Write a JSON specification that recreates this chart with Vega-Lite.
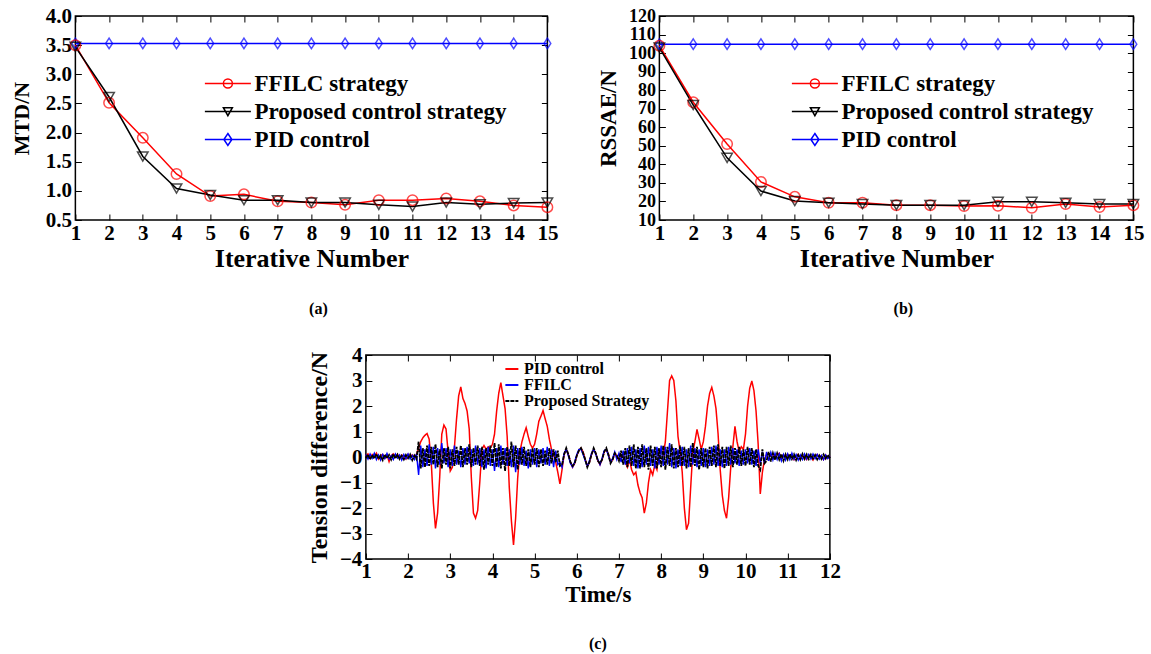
{
  "$schema": "https://vega.github.io/schema/vega-lite/v6.json",
  "background": "white",
  "padding": {"left": 9, "top": 4, "right": 5, "bottom": 5},
  "config": {
    "font": "Liberation Serif",
    "view": {"stroke": "#000000", "strokeWidth": 1.5},
    "axis": {"labelFont": "Liberation Serif", "labelFontWeight": "bold", "labelColor": "#000000", "labelFontSize": 21, "labelOverlap": false, "labelBound": false, "labelFlush": false, "titleFont": "Liberation Serif", "titleFontWeight": "bold", "titleColor": "#000000", "domain": false, "grid": false, "tickColor": "#000000", "tickSize": -6, "tickWidth": 1, "labelPadding": 10},
    "legend": {"labelFont": "Liberation Serif", "labelFontWeight": "bold", "labelColor": "#000000", "labelLimit": 0},
    "title": {"font": "Liberation Serif", "fontWeight": "bold", "color": "#000000"}
  },
  "center": true,
  "spacing": 25,
  "resolve": {"scale": {"color": "independent", "shape": "independent", "strokeDash": "independent"}, "legend": {"color": "independent", "shape": "independent", "strokeDash": "independent"}},
  "vconcat": [
    {
      "spacing": 37,
      "resolve": {"scale": {"color": "independent", "shape": "independent", "strokeDash": "independent"}, "legend": {"color": "independent", "shape": "independent", "strokeDash": "independent"}},
      "hconcat": [
        {
          "width": 472, "height": 204,
          "data": {"values": [
            {"n": 1, "F": 3.5, "P": 3.47, "D": 3.53},
            {"n": 2, "F": 2.51, "P": 2.61, "D": 3.53},
            {"n": 3, "F": 1.91, "P": 1.59, "D": 3.53},
            {"n": 4, "F": 1.29, "P": 1.04, "D": 3.53},
            {"n": 5, "F": 0.91, "P": 0.93, "D": 3.53},
            {"n": 6, "F": 0.94, "P": 0.84, "D": 3.53},
            {"n": 7, "F": 0.82, "P": 0.84, "D": 3.53},
            {"n": 8, "F": 0.8, "P": 0.8, "D": 3.53},
            {"n": 9, "F": 0.76, "P": 0.8, "D": 3.53},
            {"n": 10, "F": 0.84, "P": 0.76, "D": 3.53},
            {"n": 11, "F": 0.84, "P": 0.73, "D": 3.53},
            {"n": 12, "F": 0.87, "P": 0.8, "D": 3.53},
            {"n": 13, "F": 0.82, "P": 0.77, "D": 3.53},
            {"n": 14, "F": 0.75, "P": 0.79, "D": 3.53},
            {"n": 15, "F": 0.72, "P": 0.8, "D": 3.53}
          ]},
          "transform": [{"fold": ["D", "F", "P"], "as": ["k", "v"]}],
          "title": {"text": "(a)", "orient": "bottom", "frame": "group", "anchor": "middle", "dx": 7, "offset": 30, "fontSize": 16},
          "resolve": {"axis": {"x": "independent", "y": "independent"}},
          "layer": [
            {
              "mark": {"type": "line", "strokeWidth": 1.5},
              "encoding": {
                "x": {"field": "n", "type": "quantitative", "scale": {"domain": [1, 15], "nice": false}, "axis": {"values": [1,2,3,4,5,6,7,8,9,10,11,12,13,14,15], "title": "Iterative Number", "titleFontSize": 26, "labelPadding": 8, "titlePadding": 2}},
                "y": {"field": "v", "type": "quantitative", "scale": {"domain": [0.5, 4], "nice": false, "zero": false}, "axis": {"values": [0.5,1,1.5,2,2.5,3,3.5,4], "format": ".1f", "title": "MTD/N", "titleFontSize": 22, "titlePadding": 12}},
                "color": {"field": "k", "type": "nominal", "scale": {"domain": ["F", "P", "D"], "range": ["#ff0000", "#000000", "#0000ff"]},
                  "legend": {"orient": "none", "legendX": 141, "legendY": 56, "title": null, "padding": 0, "symbolSize": 400, "symbolStrokeWidth": 1.5, "labelOffset": 15, "labelFontSize": 23, "rowPadding": 4,
                    "labelExpr": "datum.value == 'F' ? 'FFILC strategy' : datum.value == 'P' ? 'Proposed control strategy' : 'PID control'",
                    "encode": {"symbols": {"update": {"fill": {"value": "transparent"}, "shape": {"signal": "datum.value == 'F' ? 'M-2.3,0H2.3M0.45,0A0.45,0.45 0 1,1 -0.45,0A0.45,0.45 0 1,1 0.45,0' : datum.value == 'P' ? 'M-2.3,0H2.3M-0.45,-0.38L0.45,-0.38L0,0.42Z' : 'M-2.3,0H2.3M0,-0.6L0.4,0L0,0.6L-0.4,0Z'"}}}}}}
              }
            },
            {
              "mark": {"type": "point", "filled": false, "size": 110, "strokeWidth": 1.5},
              "encoding": {
                "x": {"field": "n", "type": "quantitative", "scale": {"domain": [1, 15], "nice": false}, "axis": {"orient": "top", "values": [1,2,3,4,5,6,7,8,9,10,11,12,13,14,15], "labels": false, "title": null}},
                "y": {"field": "v", "type": "quantitative", "scale": {"domain": [0.5, 4], "nice": false, "zero": false}, "axis": {"orient": "right", "values": [0.5,1,1.5,2,2.5,3,3.5,4], "labels": false, "title": null}},
                "color": {"field": "k", "type": "nominal", "scale": {"domain": ["F", "P", "D"], "range": ["#ff0000", "#000000", "#0000ff"]}},
                "shape": {"field": "k", "type": "nominal", "scale": {"domain": ["D", "F", "P"], "range": ["M0,-1L0.65,0L0,1L-0.65,0Z", "circle", "triangle-down"]}, "legend": null}
              }
            }
          ]
        },
        {
          "width": 474, "height": 204,
          "data": {"values": [
            {"n": 1, "F": 104, "P": 103, "D": 104.8},
            {"n": 2, "F": 73.5, "P": 72, "D": 104.8},
            {"n": 3, "F": 51, "P": 43.5, "D": 104.8},
            {"n": 4, "F": 30.5, "P": 25.6, "D": 104.8},
            {"n": 5, "F": 22.5, "P": 20.2, "D": 104.8},
            {"n": 6, "F": 19.3, "P": 19.3, "D": 104.8},
            {"n": 7, "F": 19.3, "P": 18.6, "D": 104.8},
            {"n": 8, "F": 18, "P": 18, "D": 104.8},
            {"n": 9, "F": 18, "P": 18, "D": 104.8},
            {"n": 10, "F": 17.5, "P": 18, "D": 104.8},
            {"n": 11, "F": 17.7, "P": 19.8, "D": 104.8},
            {"n": 12, "F": 16.6, "P": 19.8, "D": 104.8},
            {"n": 13, "F": 18.6, "P": 19.3, "D": 104.8},
            {"n": 14, "F": 17, "P": 18.6, "D": 104.8},
            {"n": 15, "F": 18, "P": 18.6, "D": 104.8}
          ]},
          "transform": [{"fold": ["D", "F", "P"], "as": ["k", "v"]}],
          "title": {"text": "(b)", "orient": "bottom", "frame": "group", "anchor": "middle", "dx": 7, "offset": 30, "fontSize": 16},
          "resolve": {"axis": {"x": "independent", "y": "independent"}},
          "layer": [
            {
              "mark": {"type": "line", "strokeWidth": 1.5},
              "encoding": {
                "x": {"field": "n", "type": "quantitative", "scale": {"domain": [1, 15], "nice": false}, "axis": {"values": [1,2,3,4,5,6,7,8,9,10,11,12,13,14,15], "title": "Iterative Number", "titleFontSize": 26, "labelPadding": 8, "titlePadding": 2}},
                "y": {"field": "v", "type": "quantitative", "scale": {"domain": [10, 120], "nice": false, "zero": false}, "axis": {"values": [10,20,30,40,50,60,70,80,90,100,110,120], "format": "d", "title": "RSSAE/N", "labelFontSize": 18, "titleFontSize": 23, "titlePadding": 8}},
                "color": {"field": "k", "type": "nominal", "scale": {"domain": ["F", "P", "D"], "range": ["#ff0000", "#000000", "#0000ff"]},
                  "legend": {"orient": "none", "legendX": 144, "legendY": 56, "title": null, "padding": 0, "symbolSize": 400, "symbolStrokeWidth": 1.5, "labelOffset": 15, "labelFontSize": 23, "rowPadding": 4,
                    "labelExpr": "datum.value == 'F' ? 'FFILC strategy' : datum.value == 'P' ? 'Proposed control strategy' : 'PID control'",
                    "encode": {"symbols": {"update": {"fill": {"value": "transparent"}, "shape": {"signal": "datum.value == 'F' ? 'M-2.3,0H2.3M0.45,0A0.45,0.45 0 1,1 -0.45,0A0.45,0.45 0 1,1 0.45,0' : datum.value == 'P' ? 'M-2.3,0H2.3M-0.45,-0.38L0.45,-0.38L0,0.42Z' : 'M-2.3,0H2.3M0,-0.6L0.4,0L0,0.6L-0.4,0Z'"}}}}}}
              }
            },
            {
              "mark": {"type": "point", "filled": false, "size": 110, "strokeWidth": 1.5},
              "encoding": {
                "x": {"field": "n", "type": "quantitative", "scale": {"domain": [1, 15], "nice": false}, "axis": {"orient": "top", "values": [1,2,3,4,5,6,7,8,9,10,11,12,13,14,15], "labels": false, "title": null}},
                "y": {"field": "v", "type": "quantitative", "scale": {"domain": [10, 120], "nice": false, "zero": false}, "axis": {"orient": "right", "values": [10,20,30,40,50,60,70,80,90,100,110,120], "labels": false, "title": null}},
                "color": {"field": "k", "type": "nominal", "scale": {"domain": ["F", "P", "D"], "range": ["#ff0000", "#000000", "#0000ff"]}},
                "shape": {"field": "k", "type": "nominal", "scale": {"domain": ["D", "F", "P"], "range": ["M0,-1L0.65,0L0,1L-0.65,0Z", "circle", "triangle-down"]}, "legend": null}
              }
            }
          ]
        }
      ]
    },
    {
      "width": 464, "height": 204,
      "data": {"values": [
        {"t":1,"p":0.05,"f":0.1,"s":-0.05},
        {"t":1.05,"p":0.12,"f":-0.08,"s":0.1},
        {"t":1.1,"p":-0.05,"f":0.12,"s":-0.1},
        {"t":1.15,"p":0.1,"f":-0.05,"s":0.08},
        {"t":1.2,"p":0.02,"f":0.15,"s":-0.06},
        {"t":1.25,"p":0.15,"f":-0.1,"s":0.12},
        {"t":1.3,"p":-0.08,"f":0.08,"s":-0.08},
        {"t":1.35,"p":0.05,"f":-0.12,"s":0.06},
        {"t":1.4,"p":0.1,"f":0.1,"s":-0.12},
        {"t":1.45,"p":-0.05,"f":-0.06,"s":0.1},
        {"t":1.5,"p":0.08,"f":0.14,"s":-0.05},
        {"t":1.55,"p":-0.18,"f":-0.08,"s":0.08},
        {"t":1.6,"p":0.05,"f":0.05,"s":-0.1},
        {"t":1.65,"p":0.12,"f":-0.1,"s":0.12},
        {"t":1.7,"p":0,"f":0.12,"s":-0.06},
        {"t":1.75,"p":0.1,"f":-0.04,"s":0.1},
        {"t":1.8,"p":-0.05,"f":0.08,"s":-0.08},
        {"t":1.85,"p":0.08,"f":-0.12,"s":0.05},
        {"t":1.9,"p":0.02,"f":0.1,"s":-0.1},
        {"t":1.95,"p":-0.08,"f":-0.06,"s":0.08},
        {"t":2,"p":0.1,"f":0.12,"s":-0.05},
        {"t":2.05,"p":0,"f":-0.08,"s":0.1},
        {"t":2.1,"p":0.08,"f":0.06,"s":-0.12},
        {"t":2.15,"p":-0.05,"f":-0.1,"s":0.06},
        {"t":2.2,"p":0.1,"f":0.12,"s":-0.08},
        {"t":2.25,"p":0.35,"f":-0.7,"s":0.6},
        {"t":2.3,"p":0.6,"f":0.45,"s":-0.45},
        {"t":2.35,"p":0.75,"f":-0.4,"s":0.35},
        {"t":2.4,"p":0.85,"f":0.3,"s":-0.4},
        {"t":2.45,"p":0.92,"f":-0.35,"s":0.45},
        {"t":2.5,"p":0.7,"f":0.5,"s":-0.35},
        {"t":2.55,"p":-0.2,"f":-0.3,"s":0.4},
        {"t":2.6,"p":-1.8,"f":0.4,"s":-0.3},
        {"t":2.65,"p":-2.8,"f":-0.45,"s":0.5},
        {"t":2.7,"p":-2.2,"f":0.35,"s":-0.4},
        {"t":2.75,"p":-0.8,"f":-0.3,"s":0.3},
        {"t":2.8,"p":0.9,"f":0.55,"s":-0.45},
        {"t":2.85,"p":1.25,"f":-0.25,"s":0.35},
        {"t":2.9,"p":1.1,"f":0.35,"s":-0.3},
        {"t":2.95,"p":0.2,"f":-0.4,"s":0.4},
        {"t":3,"p":-0.55,"f":0.3,"s":-0.45},
        {"t":3.05,"p":-0.4,"f":-0.35,"s":0.3},
        {"t":3.1,"p":0.4,"f":0.45,"s":-0.35},
        {"t":3.15,"p":1.5,"f":-0.3,"s":0.4},
        {"t":3.2,"p":2.4,"f":0.25,"s":-0.3},
        {"t":3.25,"p":2.75,"f":-0.4,"s":0.45},
        {"t":3.3,"p":2.3,"f":0.35,"s":-0.4},
        {"t":3.35,"p":2.1,"f":-0.3,"s":0.35},
        {"t":3.4,"p":1.8,"f":0.4,"s":-0.3},
        {"t":3.45,"p":1.1,"f":-0.25,"s":0.5},
        {"t":3.5,"p":-0.8,"f":0.3,"s":-0.4},
        {"t":3.55,"p":-2.2,"f":-0.35,"s":0.35},
        {"t":3.6,"p":-2.4,"f":0.45,"s":-0.3},
        {"t":3.65,"p":-2.1,"f":-0.3,"s":0.45},
        {"t":3.7,"p":-1,"f":0.35,"s":-0.35},
        {"t":3.75,"p":0.3,"f":-0.4,"s":0.4},
        {"t":3.8,"p":0.45,"f":0.3,"s":-0.5},
        {"t":3.85,"p":0.3,"f":-0.45,"s":0.35},
        {"t":3.9,"p":0.4,"f":0.4,"s":-0.3},
        {"t":3.95,"p":0.35,"f":-0.35,"s":0.45},
        {"t":4,"p":0.5,"f":0.3,"s":-0.35},
        {"t":4.05,"p":0.9,"f":-0.55,"s":0.55},
        {"t":4.1,"p":1.8,"f":0.35,"s":-0.4},
        {"t":4.15,"p":2.5,"f":-0.4,"s":0.5},
        {"t":4.2,"p":2.92,"f":0.45,"s":-0.45},
        {"t":4.25,"p":2.4,"f":-0.3,"s":0.35},
        {"t":4.3,"p":1.9,"f":0.35,"s":-0.55},
        {"t":4.35,"p":0.8,"f":-0.35,"s":0.4},
        {"t":4.4,"p":-1.2,"f":0.3,"s":-0.35},
        {"t":4.45,"p":-2.5,"f":-0.4,"s":0.6},
        {"t":4.5,"p":-3.45,"f":0.45,"s":-0.4},
        {"t":4.55,"p":-2.4,"f":-0.6,"s":0.45},
        {"t":4.6,"p":-0.8,"f":0.35,"s":-0.5},
        {"t":4.65,"p":0.2,"f":-0.3,"s":0.35},
        {"t":4.7,"p":0.6,"f":0.4,"s":-0.3},
        {"t":4.75,"p":0.9,"f":-0.35,"s":0.4},
        {"t":4.8,"p":1.15,"f":0.25,"s":-0.35},
        {"t":4.85,"p":0.8,"f":-0.45,"s":0.3},
        {"t":4.9,"p":0.5,"f":0.3,"s":-0.4},
        {"t":4.95,"p":0.35,"f":-0.3,"s":0.35},
        {"t":5,"p":0.5,"f":0.35,"s":-0.3},
        {"t":5.05,"p":0.9,"f":-0.4,"s":0.35},
        {"t":5.1,"p":1.4,"f":0.3,"s":-0.4},
        {"t":5.15,"p":1.6,"f":-0.25,"s":0.3},
        {"t":5.2,"p":1.82,"f":0.35,"s":-0.35},
        {"t":5.25,"p":1.5,"f":-0.3,"s":0.25},
        {"t":5.3,"p":1.2,"f":0.4,"s":-0.3},
        {"t":5.35,"p":0.7,"f":-0.35,"s":0.35},
        {"t":5.4,"p":0.3,"f":0.3,"s":-0.25},
        {"t":5.45,"p":0.1,"f":-0.4,"s":0.3},
        {"t":5.5,"p":-0.2,"f":0.25,"s":-0.2},
        {"t":5.55,"p":-0.6,"f":-0.3,"s":0.25},
        {"t":5.6,"p":-1.05,"f":-0.2,"s":-0.35},
        {"t":5.65,"p":-0.5,"f":-0.4,"s":-0.3},
        {"t":5.7,"p":0.1,"f":0.15,"s":0.1},
        {"t":5.75,"p":0.3,"f":0.3,"s":0.35},
        {"t":5.8,"p":0.1,"f":0.05,"s":0.1},
        {"t":5.85,"p":-0.2,"f":-0.25,"s":-0.2},
        {"t":5.9,"p":-0.4,"f":-0.4,"s":-0.35},
        {"t":5.95,"p":-0.25,"f":-0.2,"s":-0.25},
        {"t":6,"p":0.05,"f":0.1,"s":0.05},
        {"t":6.05,"p":0.25,"f":0.3,"s":0.25},
        {"t":6.1,"p":0.35,"f":0.3,"s":0.35},
        {"t":6.15,"p":0.2,"f":0.1,"s":0.15},
        {"t":6.2,"p":-0.1,"f":-0.15,"s":-0.1},
        {"t":6.25,"p":-0.35,"f":-0.35,"s":-0.4},
        {"t":6.3,"p":-0.2,"f":-0.15,"s":-0.2},
        {"t":6.35,"p":0.1,"f":0.15,"s":0.1},
        {"t":6.4,"p":0.3,"f":0.3,"s":0.35},
        {"t":6.45,"p":0.15,"f":0.1,"s":0.15},
        {"t":6.5,"p":-0.15,"f":-0.1,"s":-0.15},
        {"t":6.55,"p":-0.3,"f":-0.3,"s":-0.25},
        {"t":6.6,"p":-0.1,"f":-0.05,"s":-0.1},
        {"t":6.65,"p":0.2,"f":0.25,"s":0.2},
        {"t":6.7,"p":0.3,"f":0.3,"s":0.35},
        {"t":6.75,"p":0.1,"f":0.05,"s":0.1},
        {"t":6.8,"p":-0.2,"f":-0.2,"s":-0.25},
        {"t":6.85,"p":-0.1,"f":-0.05,"s":-0.1},
        {"t":6.9,"p":0.15,"f":0.2,"s":0.15},
        {"t":6.95,"p":0.05,"f":-0.1,"s":0.05},
        {"t":7,"p":-0.1,"f":0.15,"s":-0.15},
        {"t":7.05,"p":0.1,"f":-0.2,"s":0.25},
        {"t":7.1,"p":0.05,"f":0.25,"s":-0.3},
        {"t":7.15,"p":-0.2,"f":-0.3,"s":0.35},
        {"t":7.2,"p":-0.4,"f":0.35,"s":-0.4},
        {"t":7.25,"p":-0.1,"f":-0.25,"s":0.45},
        {"t":7.3,"p":-0.5,"f":0.4,"s":-0.35},
        {"t":7.35,"p":-0.7,"f":-0.35,"s":0.5},
        {"t":7.4,"p":-0.6,"f":0.3,"s":-0.45},
        {"t":7.45,"p":-1.1,"f":-0.45,"s":0.4},
        {"t":7.5,"p":-1.4,"f":0.35,"s":-0.45},
        {"t":7.55,"p":-1.6,"f":-0.4,"s":0.5},
        {"t":7.6,"p":-2.2,"f":0.45,"s":-0.4},
        {"t":7.65,"p":-1.8,"f":-0.3,"s":0.35},
        {"t":7.7,"p":-1,"f":0.4,"s":-0.5},
        {"t":7.75,"p":-0.5,"f":-0.35,"s":0.45},
        {"t":7.8,"p":-0.7,"f":0.3,"s":-0.35},
        {"t":7.85,"p":-0.3,"f":-0.45,"s":0.4},
        {"t":7.9,"p":-0.5,"f":0.4,"s":-0.45},
        {"t":7.95,"p":0.2,"f":-0.3,"s":0.35},
        {"t":8,"p":0.3,"f":0.45,"s":-0.4},
        {"t":8.05,"p":0.1,"f":-0.35,"s":0.45},
        {"t":8.1,"p":0.6,"f":0.4,"s":-0.5},
        {"t":8.15,"p":1.8,"f":-0.3,"s":0.4},
        {"t":8.2,"p":3,"f":0.55,"s":-0.35},
        {"t":8.25,"p":3.18,"f":-0.4,"s":0.5},
        {"t":8.3,"p":3,"f":0.35,"s":-0.45},
        {"t":8.35,"p":2.2,"f":-0.45,"s":0.35},
        {"t":8.4,"p":0.8,"f":0.3,"s":-0.4},
        {"t":8.45,"p":0.2,"f":-0.35,"s":0.45},
        {"t":8.5,"p":-0.6,"f":0.4,"s":-0.35},
        {"t":8.55,"p":-2,"f":-0.35,"s":0.4},
        {"t":8.6,"p":-2.85,"f":0.3,"s":-0.45},
        {"t":8.65,"p":-2.6,"f":-0.4,"s":0.35},
        {"t":8.7,"p":-1.2,"f":0.45,"s":-0.4},
        {"t":8.75,"p":0.2,"f":-0.3,"s":0.55},
        {"t":8.8,"p":0.6,"f":0.35,"s":-0.35},
        {"t":8.85,"p":1.08,"f":-0.4,"s":0.4},
        {"t":8.9,"p":0.7,"f":0.3,"s":-0.5},
        {"t":8.95,"p":0.3,"f":-0.35,"s":0.35},
        {"t":9,"p":0.6,"f":0.35,"s":-0.4},
        {"t":9.05,"p":1.2,"f":-0.4,"s":0.35},
        {"t":9.1,"p":2,"f":0.3,"s":-0.45},
        {"t":9.15,"p":2.5,"f":-0.35,"s":0.4},
        {"t":9.2,"p":2.73,"f":0.4,"s":-0.35},
        {"t":9.25,"p":2.4,"f":-0.3,"s":0.45},
        {"t":9.3,"p":1.9,"f":0.45,"s":-0.4},
        {"t":9.35,"p":0.9,"f":-0.35,"s":0.5},
        {"t":9.4,"p":-0.5,"f":0.3,"s":-0.35},
        {"t":9.45,"p":-1.5,"f":-0.4,"s":0.4},
        {"t":9.5,"p":-2.1,"f":0.3,"s":-0.45},
        {"t":9.55,"p":-2.4,"f":-0.35,"s":0.4},
        {"t":9.6,"p":-1.6,"f":0.4,"s":-0.35},
        {"t":9.65,"p":-0.4,"f":-0.3,"s":0.45},
        {"t":9.7,"p":0.4,"f":0.35,"s":-0.4},
        {"t":9.75,"p":1.2,"f":-0.25,"s":0.35},
        {"t":9.8,"p":0.6,"f":0.3,"s":-0.3},
        {"t":9.85,"p":0.2,"f":-0.35,"s":0.4},
        {"t":9.9,"p":0.4,"f":0.25,"s":-0.35},
        {"t":9.95,"p":0.3,"f":-0.3,"s":0.3},
        {"t":10,"p":0.9,"f":0.3,"s":-0.35},
        {"t":10.05,"p":2,"f":-0.25,"s":0.4},
        {"t":10.1,"p":2.7,"f":0.35,"s":-0.3},
        {"t":10.15,"p":2.98,"f":-0.3,"s":0.35},
        {"t":10.2,"p":2.6,"f":0.25,"s":-0.4},
        {"t":10.25,"p":1.8,"f":-0.35,"s":0.3},
        {"t":10.3,"p":0.5,"f":0.3,"s":-0.35},
        {"t":10.35,"p":-1.45,"f":-0.25,"s":-0.5},
        {"t":10.4,"p":-0.6,"f":0.2,"s":0.3},
        {"t":10.45,"p":-0.1,"f":-0.25,"s":-0.25},
        {"t":10.5,"p":0.1,"f":0.2,"s":-0.15},
        {"t":10.55,"p":0.15,"f":-0.15,"s":0.2},
        {"t":10.6,"p":0.05,"f":0.18,"s":-0.18},
        {"t":10.65,"p":0.1,"f":-0.12,"s":0.15},
        {"t":10.7,"p":-0.05,"f":0.15,"s":-0.12},
        {"t":10.75,"p":0.1,"f":-0.1,"s":0.15},
        {"t":10.8,"p":0.15,"f":0.12,"s":-0.1},
        {"t":10.85,"p":-0.05,"f":-0.15,"s":0.12},
        {"t":10.9,"p":0.08,"f":0.1,"s":-0.15},
        {"t":10.95,"p":0,"f":-0.12,"s":0.1},
        {"t":11,"p":0.1,"f":0.12,"s":-0.1},
        {"t":11.05,"p":-0.05,"f":-0.1,"s":0.12},
        {"t":11.1,"p":0.08,"f":0.15,"s":-0.08},
        {"t":11.15,"p":-0.1,"f":-0.08,"s":0.1},
        {"t":11.2,"p":0.05,"f":0.1,"s":-0.12},
        {"t":11.25,"p":0.1,"f":-0.12,"s":0.08},
        {"t":11.3,"p":-0.08,"f":0.08,"s":-0.1},
        {"t":11.35,"p":0.05,"f":-0.1,"s":0.12},
        {"t":11.4,"p":0,"f":0.12,"s":-0.08},
        {"t":11.45,"p":-0.1,"f":-0.08,"s":0.1},
        {"t":11.5,"p":0.08,"f":0.1,"s":-0.08},
        {"t":11.55,"p":0,"f":-0.08,"s":0.1},
        {"t":11.6,"p":-0.12,"f":0.12,"s":-0.06},
        {"t":11.65,"p":0.05,"f":-0.06,"s":0.08},
        {"t":11.7,"p":0.1,"f":0.1,"s":-0.1},
        {"t":11.75,"p":-0.05,"f":-0.08,"s":0.06},
        {"t":11.8,"p":0.05,"f":0.06,"s":-0.08},
        {"t":11.85,"p":-0.1,"f":-0.1,"s":0.1},
        {"t":11.9,"p":0.08,"f":0.08,"s":-0.06},
        {"t":11.95,"p":-0.05,"f":-0.06,"s":0.08},
        {"t":12,"p":0.05,"f":0.05,"s":-0.05}
      ]},
      "transform": [{"fold": ["p", "f", "s"], "as": ["k", "v"]}],
      "title": {"text": "(c)", "orient": "bottom", "frame": "group", "anchor": "middle", "offset": 30, "fontSize": 16},
      "resolve": {"axis": {"x": "independent", "y": "independent"}},
      "layer": [
        {
          "transform": [{"filter": "datum.k == 'p'"}],
          "mark": {"type": "line", "strokeWidth": 1.5},
          "encoding": {
            "x": {"field": "t", "type": "quantitative", "scale": {"domain": [1, 12], "nice": false}, "axis": {"values": [1,2,3,4,5,6,7,8,9,10,11,12], "title": "Time/s", "titleFontSize": 23, "labelPadding": 7, "titlePadding": 2}},
            "y": {"field": "v", "type": "quantitative", "scale": {"domain": [-4, 4], "nice": false}, "axis": {"values": [-4,-3,-2,-1,0,1,2,3,4], "title": "Tension difference/N", "titleFontSize": 24, "titlePadding": 8}},
            "color": {"field": "k", "type": "nominal", "scale": {"domain": ["p", "f", "s"], "range": ["#ff0000", "#0000ff", "#000000"]},
              "legend": {"orient": "none", "legendX": 138, "legendY": 6, "title": null, "padding": 0, "symbolType": "stroke", "symbolSize": 169, "symbolStrokeWidth": 2, "labelOffset": 4, "labelFontSize": 16, "rowPadding": 0,
                "labelExpr": "datum.value == 'p' ? 'PID control' : datum.value == 'f' ? 'FFILC' : 'Proposed Strategy'"}},
            "strokeDash": {"field": "k", "type": "nominal", "scale": {"domain": ["p", "f", "s"], "range": [[1, 0], [1, 0], [4, 1]]},
              "legend": {"orient": "none", "legendX": 138, "legendY": 6, "title": null, "padding": 0, "symbolType": "stroke", "symbolSize": 169, "symbolStrokeWidth": 2, "labelOffset": 4, "labelFontSize": 16, "rowPadding": 0,
                "labelExpr": "datum.value == 'p' ? 'PID control' : datum.value == 'f' ? 'FFILC' : 'Proposed Strategy'"}}
          }
        },
        {
          "transform": [{"filter": "datum.k == 'f'"}],
          "mark": {"type": "line", "strokeWidth": 1.4},
          "encoding": {
            "x": {"field": "t", "type": "quantitative", "scale": {"domain": [1, 12], "nice": false}, "axis": null},
            "y": {"field": "v", "type": "quantitative", "scale": {"domain": [-4, 4], "nice": false}, "axis": null},
            "color": {"field": "k", "type": "nominal", "scale": {"domain": ["p", "f", "s"], "range": ["#ff0000", "#0000ff", "#000000"]}},
            "strokeDash": {"field": "k", "type": "nominal", "scale": {"domain": ["p", "f", "s"], "range": [[1, 0], [1, 0], [4, 1]]}}
          }
        },
        {
          "transform": [{"filter": "datum.k == 's'"}],
          "mark": {"type": "line", "strokeWidth": 1.8},
          "encoding": {
            "x": {"field": "t", "type": "quantitative", "scale": {"domain": [1, 12], "nice": false}, "axis": null},
            "y": {"field": "v", "type": "quantitative", "scale": {"domain": [-4, 4], "nice": false}, "axis": null},
            "color": {"field": "k", "type": "nominal", "scale": {"domain": ["p", "f", "s"], "range": ["#ff0000", "#0000ff", "#000000"]}},
            "strokeDash": {"field": "k", "type": "nominal", "scale": {"domain": ["p", "f", "s"], "range": [[1, 0], [1, 0], [4, 1]]}}
          }
        },
        {
          "mark": {"type": "point", "opacity": 0},
          "encoding": {
            "x": {"field": "t", "type": "quantitative", "scale": {"domain": [1, 12], "nice": false}, "axis": {"orient": "top", "values": [1,2,3,4,5,6,7,8,9,10,11,12], "labels": false, "title": null}},
            "y": {"field": "v", "type": "quantitative", "scale": {"domain": [-4, 4], "nice": false}, "axis": {"orient": "right", "values": [-4,-3,-2,-1,0,1,2,3,4], "labels": false, "title": " ", "titleFontSize": 22, "titlePadding": 0}}
          }
        }
      ]
    }
  ]
}
